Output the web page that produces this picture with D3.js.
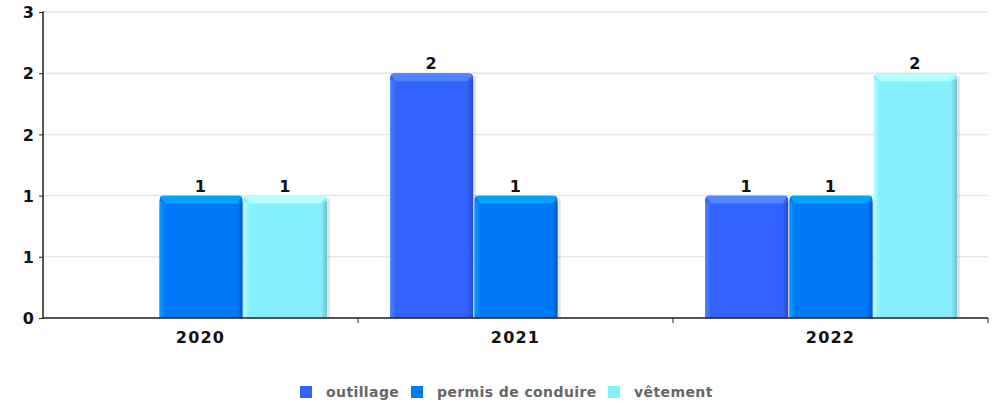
<!DOCTYPE html>
<html><head><meta charset="utf-8">
<script src="https://cdn.jsdelivr.net/npm/d3@7"></script>
<style>body{margin:0;background:#fff}svg{display:block}</style>
</head><body>
<div id="chart"></div>
<script>
const categories = ["2020", "2021", "2022"];
const seriesNames = ["outillage", "permis de conduire", "vêtement"];
const outillage = [0, 2, 1];
const permis = [1, 1, 1];
const vetement = [1, 0, 2];
const yTicks = [0, 0.5, 1, 1.5, 2, 2.5];
const colors = ["#3363FE", "#0078FA", "#86EFFC"];
const lightColors = ["#4F86FF", "#00A4FF", "#B4FFFF"];
const darkColors = ["#2649C4", "#0058C8", "#68C2CC"];

const series = [outillage, permis, vetement];
const W = 998, H = 406;
const m = {l: 43, r: 10, t: 12, b: 88};
const svg = d3.select("#chart").append("svg").attr("width", W).attr("height", H);
const defs = svg.append("defs");

const x0 = d3.scaleBand().domain(categories).range([m.l, W - m.r]).paddingInner(0).paddingOuter(0);
const x1 = d3.scaleBand().domain(seriesNames).range([32, x0.bandwidth() - 31]).paddingInner(0.012);
const y = d3.scaleLinear().domain([0, 2.5]).range([H - m.b, m.t]);

const FONT = "DejaVu Sans";
const LS = 1.2;

// grid
svg.append("g").selectAll("line").data(yTicks).join("line")
  .attr("x1", m.l).attr("x2", W - m.r)
  .attr("y1", d => y(d)).attr("y2", d => y(d))
  .attr("stroke", "#e6e6e6").attr("stroke-width", 1.5);

// gradients
seriesNames.forEach((s, i) => {
  const gl = defs.append("linearGradient").attr("id", "gl" + i).attr("x1", 0).attr("x2", 1);
  gl.append("stop").attr("offset", 0).attr("stop-color", lightColors[i]);
  gl.append("stop").attr("offset", 1).attr("stop-color", colors[i]);
  const gr = defs.append("linearGradient").attr("id", "gr" + i).attr("x1", 0).attr("x2", 1);
  gr.append("stop").attr("offset", 0).attr("stop-color", colors[i]);
  gr.append("stop").attr("offset", 1).attr("stop-color", darkColors[i]);
});

function barPath(x, yy, w, h, r) {
  return `M${x},${yy + h}V${yy + r}Q${x},${yy} ${x + r},${yy}H${x + w - r}Q${x + w},${yy} ${x + w},${yy + r}V${yy + h}Z`;
}

const bars = svg.append("g");
let cid = 0;
categories.forEach((c, ci) => {
  seriesNames.forEach((s, si) => {
    const v = series[si][ci];
    if (!v) return;
    const bx = x0(c) + x1(s), bw = x1.bandwidth();
    const by = y(v), bh = y(0) - y(v);
    const b = 6;
    bars.append("rect").attr("x", bx + 3).attr("y", by + 3).attr("width", bw).attr("height", bh - 3)
      .attr("fill", "#000").attr("opacity", 0.1);
    const id = "clip" + (cid++);
    defs.append("clipPath").attr("id", id).append("path").attr("d", barPath(bx, by, bw, bh, 5));
    const g = bars.append("g").attr("clip-path", `url(#${id})`);
    g.append("rect").attr("x", bx).attr("y", by).attr("width", bw).attr("height", bh).attr("fill", colors[si]);
    g.append("polygon").attr("points", `${bx},${by + b} ${bx + b},${by + b + 2} ${bx + b},${by + bh} ${bx},${by + bh}`).attr("fill", `url(#gl${si})`);
    g.append("polygon").attr("points", `${bx + bw},${by + b} ${bx + bw - b},${by + b + 2} ${bx + bw - b},${by + bh} ${bx + bw},${by + bh}`).attr("fill", `url(#gr${si})`);
    g.append("polygon").attr("points", `${bx},${by} ${bx + bw},${by} ${bx + bw - b},${by + b + 2} ${bx + b},${by + b + 2}`).attr("fill", lightColors[si]);
    svg.append("text").attr("x", bx + bw / 2).attr("y", by - 4).attr("text-anchor", "middle")
      .attr("font-family", FONT).attr("font-weight", "bold").attr("font-size", 16).attr("letter-spacing", LS).attr("fill", "#111")
      .text(v);
  });
});

// axes
const yAxis = svg.append("g").attr("transform", `translate(${m.l},0)`)
  .call(d3.axisLeft(y).tickValues(yTicks).tickSize(4).tickFormat(d => Math.round(d)));
yAxis.select(".domain").attr("stroke", "#222").attr("stroke-width", 1.5).attr("d", `M-0.5,${y(2.5)}H0V${y(0)}H-0.5`);
yAxis.selectAll(".tick line").attr("stroke", "#222");
yAxis.selectAll("text").attr("font-family", FONT).attr("font-weight", "bold").attr("font-size", 16).attr("fill", "#111").attr("x", -9).attr("dy", "0.35em");

const xg = svg.append("g").attr("transform", `translate(0,${y(0)})`);
xg.append("line").attr("x1", m.l).attr("x2", W - m.r).attr("y1", 0).attr("y2", 0).attr("stroke", "#222").attr("stroke-width", 1.5);
xg.selectAll(".tk").data(categories).join("line")
  .attr("x1", d => x0(d) + x0.bandwidth()).attr("x2", d => x0(d) + x0.bandwidth())
  .attr("y1", 0).attr("y2", 5).attr("stroke", "#222");
xg.selectAll("text").data(categories).join("text")
  .attr("x", d => x0(d) + x0.bandwidth() / 2).attr("y", 25).attr("text-anchor", "middle")
  .attr("font-family", FONT).attr("font-weight", "bold").attr("font-size", 16).attr("letter-spacing", LS).attr("fill", "#111")
  .text(d => d);

// legend
const legendX = [300, 411, 608];
const lg = svg.append("g");
seriesNames.forEach((s, i) => {
  lg.append("rect").attr("x", legendX[i]).attr("y", 386).attr("width", 12).attr("height", 12).attr("fill", colors[i]);
  lg.append("text").attr("x", legendX[i] + 26).attr("y", 397)
    .attr("font-family", FONT).attr("font-weight", "bold").attr("font-size", 14).attr("letter-spacing", 0.4).attr("fill", "#666")
    .text(s);
});
</script>
</body></html>
